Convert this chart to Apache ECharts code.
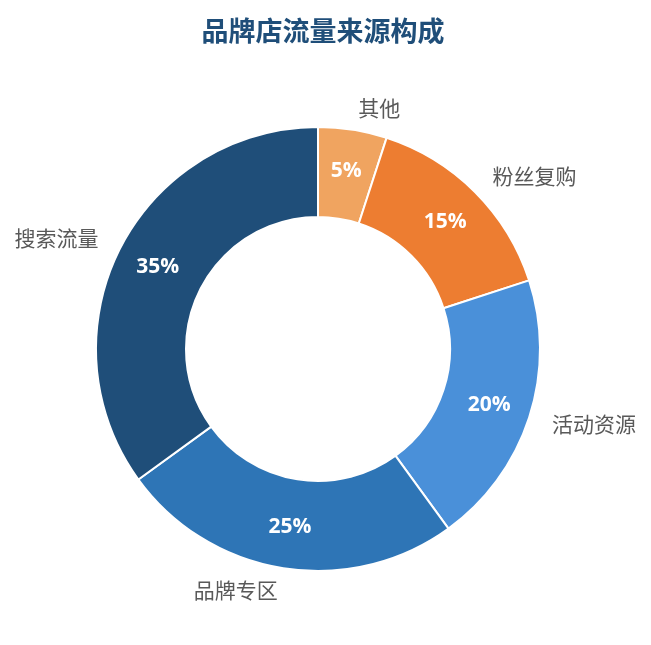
<!DOCTYPE html>
<html><head><meta charset="utf-8">
<script src="https://cdn.jsdelivr.net/npm/echarts@6/dist/echarts.min.js"></script>
<style>html,body{margin:0;padding:0;background:#fff}#c{width:651px;height:645px}</style>
</head><body><div id="c"></div>
<script>
const categories = ['其他', '粉丝复购', '活动资源', '品牌专区', '搜索流量'];
const values = [5, 15, 20, 25, 35];
const colors = ['#F0A460', '#ED7D31', '#4A90D9', '#2E75B6', '#1F4E79'];
const titleText = '品牌店流量来源构成';

const data = categories.map((n, i) => ({ name: n, value: values[i], itemStyle: { color: colors[i] } }));
const font = '"Noto Sans CJK SC", "Noto Sans", sans-serif';
const chart = echarts.init(document.getElementById('c'));
chart.setOption({
  animation: false,
  title: { text: titleText, left: 318, textAlign: 'center', top: 12,
    textStyle: { color: '#1F4E79', fontSize: 27, fontWeight: 'bold', fontFamily: font } },
  series: [
    { type: 'pie', center: [318, 349], radius: [132, 222], startAngle: 90, clockwise: true,
      itemStyle: { borderColor: '#fff', borderWidth: 2 },
      label: { show: true, position: 'outside', formatter: '{b}', color: '#595959', fontSize: 21, fontFamily: font, distanceToLabelLine: 2 },
      labelLine: { show: false, length: 22, length2: 0 },
      data: data },
    { type: 'pie', center: [318, 349], radius: [132, 222], startAngle: 90, clockwise: true, silent: true,
      itemStyle: { color: 'transparent', borderWidth: 0 },
      label: { show: true, position: 'inside', formatter: '{d}%', color: '#fff', fontSize: 21, fontWeight: 'bold', fontFamily: '"Open Sans", sans-serif' },
      labelLine: { show: false },
      data: categories.map((n, i) => ({ name: n, value: values[i] })) }
  ]
});
</script></body></html>
